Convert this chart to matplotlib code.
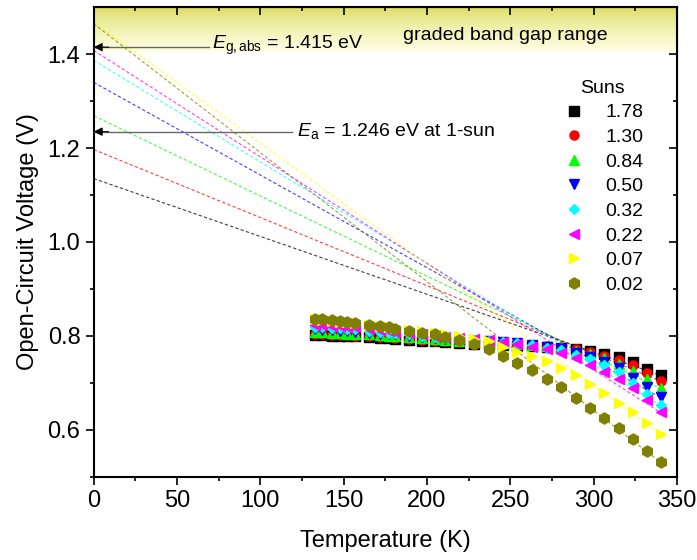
import numpy as np
import matplotlib
matplotlib.use("Agg")
import matplotlib.pyplot as plt

plt.rcParams['font.family'] = ['Liberation Sans', 'DejaVu Sans']
plt.rcParams['mathtext.fontset'] = 'custom'
plt.rcParams['mathtext.it'] = 'Liberation Sans:italic'
plt.rcParams['mathtext.rm'] = 'Liberation Sans'

# temperatures (K), same for all illumination levels
T = [133, 137, 143, 148, 152, 157, 165, 172, 177, 181, 189, 197, 205, 211, 219,
     228, 237, 245.5, 254, 263, 272, 280.5, 289.5, 298, 306.5, 315, 323.5, 332, 340.5]

suns = ["1.78", "1.30", "0.84", "0.50", "0.32", "0.22", "0.07", "0.02"]

voc_178 = [0.801, 0.801, 0.800, 0.800, 0.799, 0.799, 0.797, 0.796, 0.795, 0.794, 0.792, 0.790, 0.788, 0.786, 0.784,
           0.782, 0.781, 0.780, 0.779, 0.778, 0.777, 0.775, 0.773, 0.768, 0.762, 0.754, 0.744, 0.730, 0.716]
voc_130 = [0.803, 0.803, 0.802, 0.802, 0.801, 0.800, 0.799, 0.798, 0.797, 0.796, 0.794, 0.792, 0.790, 0.788, 0.786,
           0.785, 0.784, 0.783, 0.781, 0.780, 0.778, 0.775, 0.771, 0.765, 0.757, 0.748, 0.737, 0.721, 0.704]
voc_084 = [0.809, 0.808, 0.807, 0.806, 0.805, 0.804, 0.803, 0.801, 0.800, 0.799, 0.797, 0.795, 0.793, 0.791, 0.789,
           0.788, 0.786, 0.785, 0.783, 0.781, 0.778, 0.774, 0.768, 0.762, 0.752, 0.740, 0.726, 0.708, 0.688]
voc_050 = [0.814, 0.813, 0.812, 0.811, 0.810, 0.809, 0.807, 0.805, 0.804, 0.803, 0.800, 0.797, 0.795, 0.793, 0.791,
           0.790, 0.788, 0.786, 0.784, 0.781, 0.777, 0.771, 0.764, 0.756, 0.745, 0.732, 0.711, 0.691, 0.669]
voc_032 = [0.819, 0.818, 0.817, 0.816, 0.815, 0.814, 0.811, 0.809, 0.807, 0.806, 0.803, 0.800, 0.798, 0.796, 0.793,
           0.792, 0.790, 0.787, 0.784, 0.780, 0.775, 0.769, 0.760, 0.750, 0.738, 0.723, 0.700, 0.676, 0.652]
voc_022 = [0.824, 0.823, 0.822, 0.821, 0.819, 0.818, 0.815, 0.812, 0.810, 0.808, 0.806, 0.803, 0.800, 0.798, 0.795,
           0.794, 0.791, 0.786, 0.782, 0.777, 0.771, 0.763, 0.752, 0.738, 0.724, 0.708, 0.688, 0.663, 0.637]
voc_007 = [0.835, 0.834, 0.832, 0.830, 0.829, 0.827, 0.824, 0.821, 0.819, 0.817, 0.813, 0.810, 0.807, 0.805, 0.799,
           0.794, 0.788, 0.777, 0.766, 0.757, 0.746, 0.732, 0.716, 0.697, 0.678, 0.658, 0.637, 0.614, 0.591]
voc_002 = [0.836, 0.835, 0.833, 0.831, 0.829, 0.828, 0.824, 0.821, 0.818, 0.815, 0.810, 0.806, 0.803, 0.798, 0.792,
           0.782, 0.771, 0.757, 0.743, 0.727, 0.709, 0.690, 0.668, 0.647, 0.625, 0.603, 0.580, 0.555, 0.531]

# linear fits: Voc(0 K) intercept and slope (V/K)
fit_v0 = [1.135, 1.197, 1.269, 1.340, 1.387, 1.408, 1.469, 1.465]
fit_slope = [-1.232e-3, -1.450e-3, -1.709e-3, -1.974e-3, -2.162e-3, -2.268e-3, -2.582e-3, -2.747e-3]

band_lo, band_hi = 1.404, 1.5
eg_abs = 1.415
ea = 1.235

series = [voc_178, voc_130, voc_084, voc_050, voc_032, voc_022, voc_007, voc_002]
colors = ["#000000", "#ff0000", "#00ff00", "#0000ff", "#00ffff", "#ff00ff", "#ffff00", "#808000"]
markers = ["s", "o", "^", "v", "D", "<", ">", "h"]
msizes = [6.5, 6.5, 7, 7, 5.5, 7, 7, 8]

fig = plt.figure(figsize=(6.97, 5.6), dpi=100)
ax = fig.add_axes([0.1344, 0.1488, 0.8369, 0.8382])

# graded band gap band (dark olive-yellow at top fading to pale yellow)
g = np.linspace(0, 1, 256) ** 0.6
top_c = np.array([0.84, 0.84, 0.30])
bot_c = np.array([1.0, 1.0, 0.90])
img = top_c[None, :] * (1 - g[:, None]) + bot_c[None, :] * g[:, None]
img = img.reshape(256, 1, 3)
ax.imshow(img, extent=[0, 350, band_lo, band_hi], aspect='auto', origin='upper', zorder=0)

tfit = np.array([0, 340.5])
for v0, k, c in zip(fit_v0, fit_slope, colors):
    ax.plot(tfit, v0 + k * tfit, ls=(0, (3, 2)), lw=0.8, color=c, alpha=0.75, zorder=2)

for v, c, m, s, lab in zip(series, colors, markers, msizes, suns):
    ax.plot(T, v, ls='none', marker=m, ms=s, color=c, mec=c, label=lab, zorder=3)

# arrows: grey line with a black head at the axis
head = dict(arrowstyle='-|>', color='black', lw=0.8, mutation_scale=13, shrinkA=0, shrinkB=0)
ax.plot([0, 69], [eg_abs, eg_abs], color='#666666', lw=1.0, zorder=4)
ax.annotate("", xy=(0, eg_abs), xytext=(9, eg_abs), arrowprops=head, zorder=5)
ax.text(71, eg_abs + 0.004, r"$E_{\mathrm{g,abs}}$ = 1.415 eV", fontsize=14, va='center', ha='left')
ax.plot([0, 119], [ea, ea], color='#666666', lw=1.0, zorder=4)
ax.annotate("", xy=(0, ea), xytext=(9, ea), arrowprops=head, zorder=5)
ax.text(122, ea + 0.002, r"$E_{\mathrm{a}}$ = 1.246 eV at 1-sun", fontsize=14, va='center', ha='left')
ax.text(247, 1.44, "graded band gap range", fontsize=14, va='center', ha='center')

ax.set_xlim(0, 350)
ax.set_ylim(0.5, 1.5)
ax.set_xticks(np.arange(0, 351, 50))
ax.set_xticks(np.arange(25, 350, 50), minor=True)
ax.set_yticks([0.6, 0.8, 1.0, 1.2, 1.4])
ax.set_yticks([0.5, 0.7, 0.9, 1.1, 1.3], minor=True)
ax.tick_params(which='both', direction='out', labelsize=17, width=1.2)
ax.tick_params(which='major', length=6)
ax.tick_params(which='minor', length=3)
for sp in ax.spines.values():
    sp.set_linewidth(1.5)

secx = ax.secondary_xaxis('top')
secx.set_xticks(np.arange(0, 351, 50))
secx.set_xticks(np.arange(25, 350, 50), minor=True)
secx.tick_params(which='both', direction='in', labeltop=False, width=1.2)
secx.tick_params(which='major', length=6)
secx.tick_params(which='minor', length=3)
secy = ax.secondary_yaxis('right')
secy.set_yticks([0.6, 0.8, 1.0, 1.2, 1.4])
secy.set_yticks([0.5, 0.7, 0.9, 1.1, 1.3], minor=True)
secy.tick_params(which='both', direction='in', labelright=False, width=1.2)
secy.tick_params(which='major', length=6)
secy.tick_params(which='minor', length=3)

ax.set_xlabel("Temperature (K)", fontsize=17, labelpad=13)
ax.set_ylabel("Open-Circuit Voltage (V)", fontsize=17, labelpad=6)

leg = ax.legend(title="Suns", loc='upper left', bbox_to_anchor=(0.79, 0.862), frameon=False,
                fontsize=14, title_fontsize=14, handletextpad=1.0, labelspacing=0.36,
                handlelength=1.2, borderaxespad=0)

fig.savefig("out.png", dpi=100)
